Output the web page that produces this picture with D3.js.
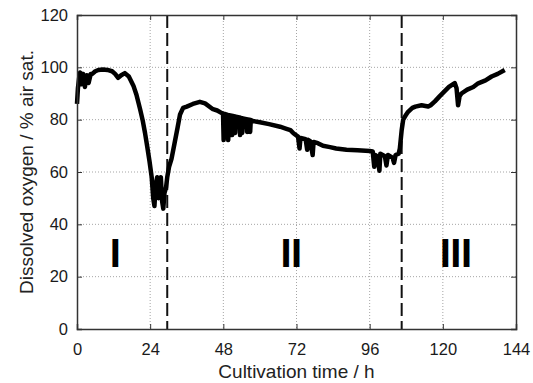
<!DOCTYPE html>
<html>
<head>
<meta charset="utf-8">
<script src="https://cdn.jsdelivr.net/npm/d3@7"></script>
<style>
  body { margin: 0; background: #fff; }
  svg { display: block; font-family: "Liberation Sans", Arial, sans-serif; }
  .tick text { font-size: 16.5px; fill: #1a1a1a; }
  .axis path, .axis line { stroke: #333; }
</style>
</head>
<body>
<svg id="chart" width="533" height="383"></svg>
<script>
// dissolved oxygen trace (h, % air sat.)
var timeH = [
    0, 0.3, 0.7, 1.0, 1.5, 2.0, 2.6, 3.2, 3.8, 4.5, 5, 6, 7, 8.5, 10, 11.5, 12.5, 13.5, 14.5, 15.7,
    17, 18.5, 19.5, 20.7, 21.5, 22.3, 23, 23.8, 24.5, 25, 25.4, 25.8, 26.3, 26.7, 27.1, 27.5, 27.9, 28.3, 28.7, 29.2,
    29.6, 30.2, 31, 32, 33, 33.8, 34.8, 36, 38, 40.3, 42, 44.6, 46, 47.5, 47.9, 48.1, 48.4, 49.4, 49.6, 49.9,
    50.7, 50.9, 51.1, 51.7, 51.9, 52.1, 53.3, 53.5, 53.7, 54.0, 54.2, 54.4, 55.6, 55.8, 56.0, 56.6, 56.8, 57.0, 57.7, 60,
    63, 66.6, 68.7, 70, 71, 72.5, 73, 73.3, 75, 75.5, 75.8, 76.5, 77.3, 77.6, 79, 80.7, 83, 85, 88.4, 92,
    96, 97, 97.5, 97.8, 98.5, 99.2, 99.5, 101, 101.5, 102, 103.5, 104, 104.5, 105.5, 105.9, 106.5, 107, 108, 108.6, 110,
    111, 113, 115.2, 116, 117.4, 119, 120.7, 122, 123.9, 124.5, 125, 125.5, 126.1, 128, 130, 131.6, 134, 136, 138, 140.3
];
var dissolvedO2 = [
    86, 92, 96, 98, 93.5, 97.5, 92.5, 97, 94, 97.5, 97.5, 98.5, 99, 99.2, 99, 98.5, 97.5, 96, 97, 97.8,
    96.5, 93, 89.5, 84, 80, 75, 70, 64, 58, 50, 47, 55, 58, 50, 57, 58, 49, 46, 52, 54,
    58, 62, 65, 71, 77, 82, 84.5, 85, 86, 86.8, 86.2, 84, 83.5, 82.5, 82.3, 72.2, 82.2, 81.8, 72.2, 81.7,
    81.5, 74.1, 81.4, 81.2, 74.9, 81.1, 80.8, 74.1, 80.7, 80.6, 74.9, 80.5, 80.2, 75.3, 80.1, 80, 75.3, 79.9, 79.5, 79,
    78.3, 77.3, 76.5, 76, 74.8, 73.5, 69, 73, 72.5, 68.5, 72.3, 71.8, 66.5, 71.5, 71, 70, 69.5, 69, 68.5, 68.3,
    68, 67.8, 62, 66.5, 66, 60.5, 67, 66, 62.5, 66.5, 65.5, 63.5, 66.5, 67, 69, 76, 80, 82, 83, 84.5,
    85, 85.5, 85, 85.5, 87, 89, 91, 92.5, 94, 92, 85.5, 89, 90, 91.5, 92.5, 93.9, 95, 96.5, 97.5, 99
];
var phaseBounds = [29.6, 106.5];
var phaseLabels = ["I", "II", "III"];
var phaseLabelTimes = [12.5, 70.2, 124.2];
var phaseLabelLevel = 23.7;
var xTicks = [0, 24, 48, 72, 96, 120, 144];
var yTicks = [0, 20, 40, 60, 80, 100, 120];

var margin = { top: 15, right: 17, bottom: 54, left: 77 };
var svg = d3.select("#chart");
var width = 533 - margin.left - margin.right;
var height = 383 - margin.top - margin.bottom;

var x = d3.scaleLinear().domain([0, 144]).range([0, width]);
var y = d3.scaleLinear().domain([0, 120]).range([height, 0]);

var g = svg.append("g").attr("transform", "translate(" + margin.left + "," + margin.top + ")");

// dotted grid
g.append("g").selectAll("line")
    .data(xTicks.slice(1, -1))
    .enter().append("line")
    .attr("x1", function (d) { return x(d); })
    .attr("x2", function (d) { return x(d); })
    .attr("y1", 0).attr("y2", height)
    .attr("stroke", "#a5a5a5").attr("stroke-width", 1).attr("stroke-dasharray", "1,2");
g.append("g").selectAll("line")
    .data(yTicks.slice(1, -1))
    .enter().append("line")
    .attr("y1", function (d) { return y(d); })
    .attr("y2", function (d) { return y(d); })
    .attr("x1", 0).attr("x2", width)
    .attr("stroke", "#a5a5a5").attr("stroke-width", 1).attr("stroke-dasharray", "1,2");

// phase boundaries
g.selectAll(".phase")
    .data(phaseBounds)
    .enter().append("line")
    .attr("class", "phase")
    .attr("x1", function (d) { return x(d); })
    .attr("x2", function (d) { return x(d); })
    .attr("y1", 0).attr("y2", height)
    .attr("stroke", "#111").attr("stroke-width", 2).attr("stroke-dasharray", "13,5");

// trace
var pts = timeH.map(function (t, i) { return [t, dissolvedO2[i]]; });
var line = d3.line()
    .x(function (d) { return x(d[0]); })
    .y(function (d) { return y(d[1]); });
g.append("path")
    .datum(pts)
    .attr("d", line)
    .attr("fill", "none")
    .attr("stroke", "#000")
    .attr("stroke-width", 4.5)
    .attr("stroke-linejoin", "round");

// phase numerals
g.selectAll(".roman")
    .data(phaseLabels)
    .enter().append("text")
    .attr("class", "roman")
    .attr("x", function (d, i) { return x(phaseLabelTimes[i]); })
    .attr("y", y(phaseLabelLevel))
    .attr("text-anchor", "middle")
    .attr("font-size", 40)
    .attr("font-weight", "bold")
    .attr("letter-spacing", "-0.6px")
    .attr("fill", "#000")
    .text(function (d) { return d; });

// axes, ticks pointing in
g.append("g").attr("class", "axis")
    .attr("transform", "translate(0," + height + ")")
    .call(d3.axisBottom(x).tickValues(xTicks).tickSize(-5).tickPadding(14));
g.append("g").attr("class", "axis")
    .call(d3.axisLeft(y).tickValues(yTicks).tickSize(-5).tickPadding(9));
g.append("g").attr("class", "axis")
    .call(d3.axisTop(x).tickValues(xTicks).tickSize(-5).tickFormat(""));
g.append("g").attr("class", "axis")
    .attr("transform", "translate(" + width + ",0)")
    .call(d3.axisRight(y).tickValues(yTicks).tickSize(-5).tickFormat(""));
g.selectAll(".axis path").attr("stroke-width", 1.5);

// titles
svg.append("text")
    .attr("x", margin.left + width / 2)
    .attr("y", 378)
    .attr("text-anchor", "middle")
    .attr("font-size", 19)
    .attr("fill", "#222")
    .text("Cultivation time / h");
svg.append("text")
    .attr("transform", "translate(33," + (margin.top + height / 2) + ") rotate(-90)")
    .attr("text-anchor", "middle")
    .attr("font-size", 19)
    .attr("fill", "#222")
    .text("Dissolved oxygen / % air sat.");
</script>
</body>
</html>
